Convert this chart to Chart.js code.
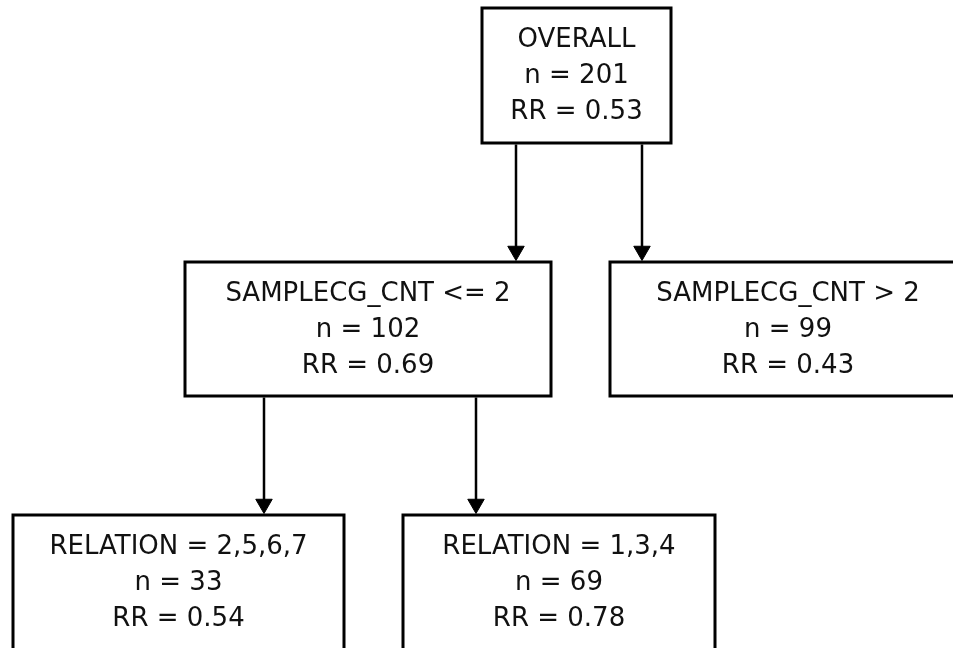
<!DOCTYPE html>
<html>
<head>
<meta charset="utf-8">
<script src="https://cdn.jsdelivr.net/npm/chart.js@4"></script>
<style>
  html, body { margin: 0; padding: 0; background: #ffffff; }
  #wrap { width: 953px; height: 648px; }
</style>
</head>
<body>
<div id="wrap"><canvas id="treeChart" width="953" height="648"></canvas></div>
<script>
// tree nodes (data)
var nodeRules = ['OVERALL', 'SAMPLECG_CNT <= 2', 'SAMPLECG_CNT > 2', 'RELATION = 2,5,6,7', 'RELATION = 1,3,4'];
var nodeCounts = [201, 102, 99, 33, 69];
var nodeRates = [0.53, 0.69, 0.43, 0.54, 0.78];
var nodeParents = [null, 0, 0, 1, 1];

// layout in chart units: [left, top, right, bottom] and x of the incoming arrow
var boxes = [
    [482, 8, 671, 143],
    [185, 262, 551, 396],
    [610, 262, 966, 396],
    [13, 515, 344, 660],
    [403, 515, 715, 660]
];
var arrowX = [null, 516, 642, 264, 476];

var arrowSize = 9.5;
var datasets = [];

boxes.forEach(function (b) {
    datasets.push({
        data: [
            { x: b[0], y: b[1] }, { x: b[2], y: b[1] },
            { x: b[2], y: b[3] }, { x: b[0], y: b[3] },
            { x: b[0], y: b[1] }
        ],
        showLine: true,
        borderColor: '#000000',
        borderWidth: 3,
        borderCapStyle: 'square',
        borderJoinStyle: 'miter',
        pointRadius: 0,
        tension: 0,
        fill: false
    });
});

nodeParents.forEach(function (p, i) {
    if (p === null) return;
    var x = arrowX[i];
    datasets.push({
        data: [
            { x: x, y: boxes[p][3] + 1.5 },
            { x: x, y: boxes[i][1] - 1.5 - arrowSize }
        ],
        showLine: true,
        borderColor: '#000000',
        borderWidth: 2.5,
        pointRadius: [0, arrowSize],
        pointStyle: 'triangle',
        rotation: 180,
        pointBackgroundColor: '#000000',
        pointBorderColor: '#000000',
        pointBorderWidth: 1,
        tension: 0
    });
});

var nodeText = {
    id: 'nodeText',
    afterDatasetsDraw: function (chart) {
        var ctx = chart.ctx;
        var xs = chart.scales.x;
        var ys = chart.scales.y;
        ctx.save();
        ctx.fillStyle = '#111111';
        ctx.font = '26px "DejaVu Sans", Verdana, sans-serif';
        ctx.textAlign = 'center';
        ctx.textBaseline = 'middle';
        nodeRules.forEach(function (rule, i) {
            var b = boxes[i];
            var cx = xs.getPixelForValue((b[0] + b[2]) / 2);
            var lines = [rule, 'n = ' + nodeCounts[i], 'RR = ' + nodeRates[i].toFixed(2)];
            lines.forEach(function (t, k) {
                ctx.fillText(t, cx, ys.getPixelForValue(b[1] + 32 + k * 36));
            });
        });
        ctx.restore();
    }
};

var ctx = document.getElementById('treeChart').getContext('2d');
var myChart = new Chart(ctx, {
    type: 'scatter',
    data: { datasets: datasets },
    options: {
        responsive: false,
        animation: false,
        layout: { padding: 0, autoPadding: false },
        scales: {
            x: { type: 'linear', min: 0, max: 953, display: false },
            y: { type: 'linear', min: 0, max: 648, reverse: true, display: false }
        },
        plugins: {
            legend: { display: false },
            tooltip: { enabled: false }
        }
    },
    plugins: [nodeText]
});
</script>
</body>
</html>
